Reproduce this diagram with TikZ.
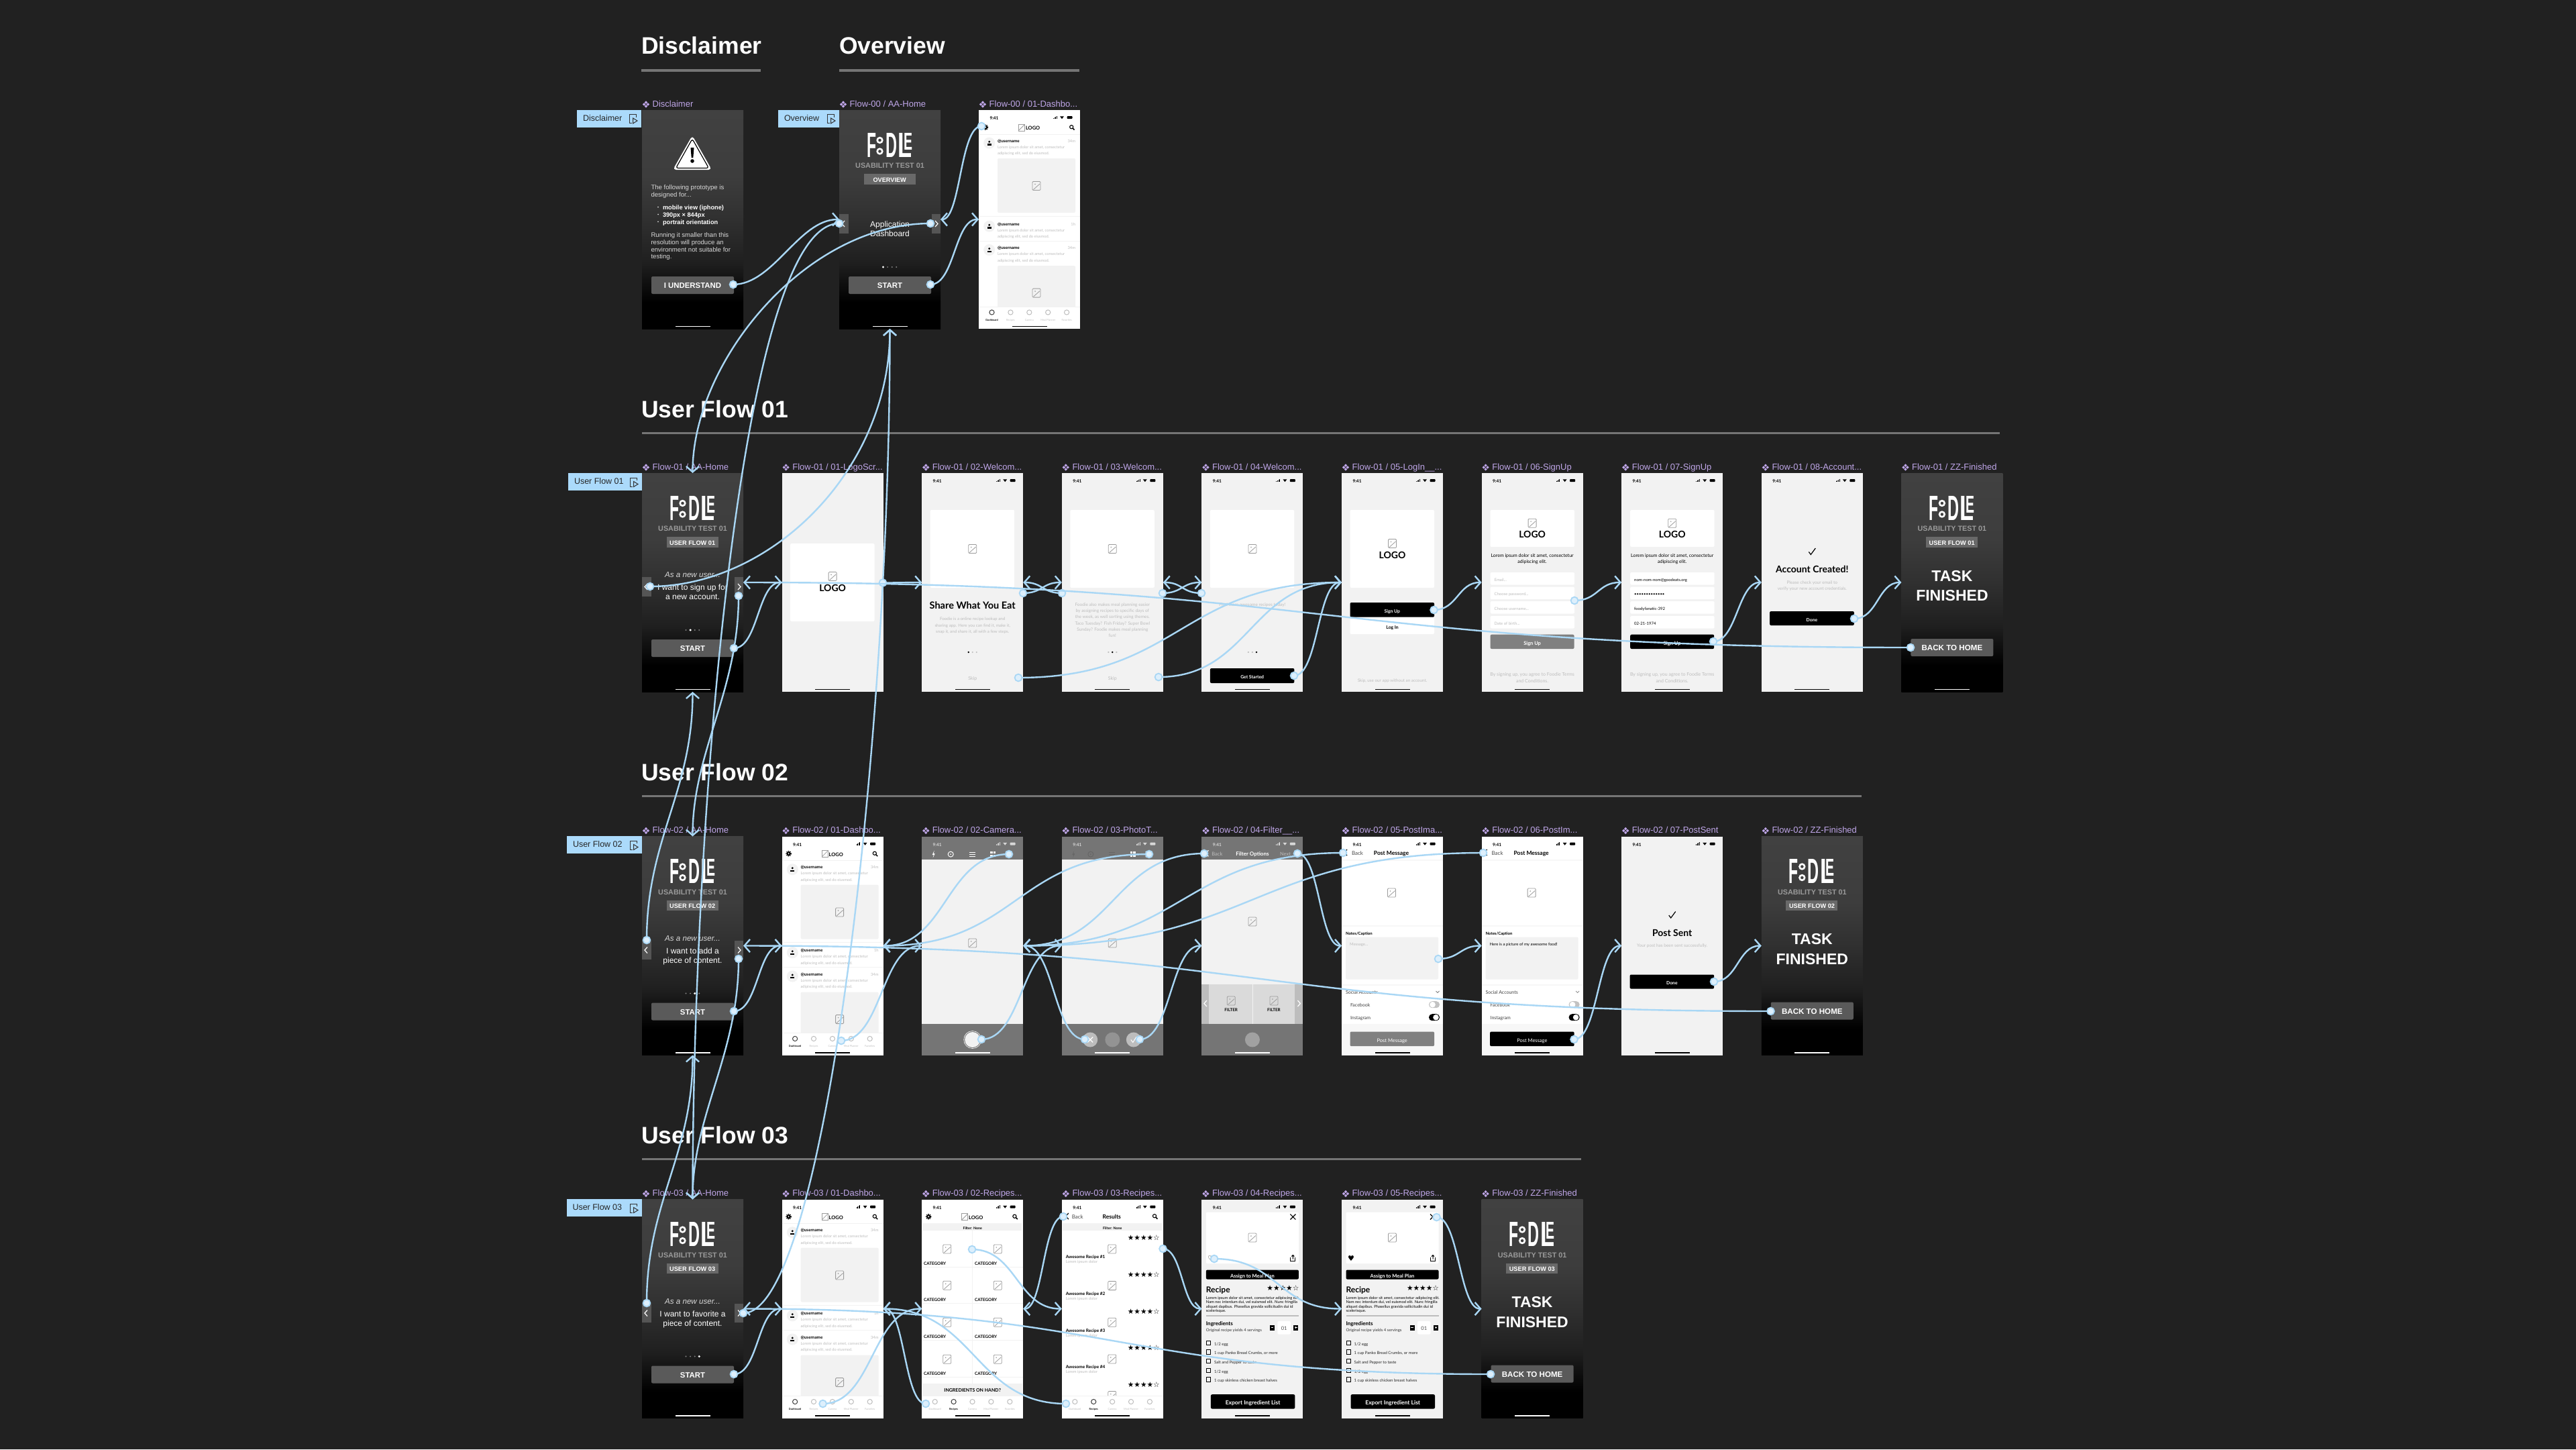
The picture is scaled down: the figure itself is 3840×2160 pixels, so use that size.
\documentclass[tikz,border=0pt]{standalone}
\usepackage{fontspec}
\usepackage{graphicx}
\usetikzlibrary{arrows.meta}
\setmainfont{Liberation Sans}
\newfontfamily\lato{Lato}
\newfontfamily\dejavu{DejaVu Sans}
\newdimen\pxu \pxu=0.25mm
\newcommand\fs[1]{\fontsize{#1\pxu}{#1\pxu}\selectfont}
\newcommand\La[1]{\lato\fs{#1}}
\newcommand\Lb[1]{\lato\bfseries\fs{#1}}
\newcommand\Ar[1]{\rmfamily\fs{#1}}
\newcommand\Ab[1]{\rmfamily\bfseries\fs{#1}}
\newcommand\Dj[1]{\dejavu\fs{#1}}
\definecolor{bgc}{HTML}{212121}
\definecolor{rulec}{HTML}{757575}
\definecolor{purp}{HTML}{BFA6E8}
\definecolor{tagc}{HTML}{ABDAFB}
\definecolor{noodlec}{HTML}{A9D7F5}
\definecolor{hotf}{HTML}{DDEFFC}
\definecolor{lightc}{HTML}{F2F2F2}
\definecolor{softc}{HTML}{BDBDBD}
\definecolor{midc}{HTML}{808080}
\definecolor{camc}{HTML}{757575}
\definecolor{btnc}{HTML}{5A5A5A}
\definecolor{badgec}{HTML}{696969}
\definecolor{sidec}{HTML}{555555}
\definecolor{usac}{HTML}{9A9A9A}
\definecolor{iconc}{HTML}{9C9C9C}
\definecolor{bodyc}{HTML}{D8D8D8}
\definecolor{dka}{HTML}{1F1F1F}
\definecolor{dkb}{HTML}{303030}
\definecolor{dkc}{HTML}{3D3D3D}
\definecolor{dkd}{HTML}{414141}
\pgfdeclareverticalshading{darkscr}{100bp}{color(0bp)=(black);color(31bp)=(black);color(40bp)=(dka);color(50bp)=(dkb);color(60bp)=(dkc);color(75bp)=(dkd);color(100bp)=(dkd)}
\newcounter{tn}
\newcommand\tx[6][]{\stepcounter{tn}\node[txt,font=#4,text=#5,#1] (t\arabic{tn}) at (#2,#3) {#6};}
\newcommand\compicon{\foreach \dx/\dy in {0/-2.9,0/2.9,-2.9/0,2.9/0}{\fill[purp] ({6+\dx-2.2},{-8.5+\dy}) -- ({6+\dx},{-8.5+\dy-2.2}) -- ({6+\dx+2.2},{-8.5+\dy}) -- ({6+\dx},{-8.5+\dy+2.2}) -- cycle;}}
\newcommand\screen[6]{\node[#2] (#1) at ({#3+75.5},{#4+163}) {};
 \begin{scope}[shift={(#3,#4)}]
  \compicon
  \tx[anchor=mid west]{15.7}{-8.5}{\Ar{13}}{purp}{#5}
  #6
 \end{scope}}
\newcommand\stat[1]{\tx{23}{11}{\Lb{6.5}}{#1}{9:41}
 \fill[#1] (111,13) rectangle (112,11.5); \fill[#1] (112.6,13) rectangle (113.6,10.5); \fill[#1] (114.2,13) rectangle (115.2,9.5); \fill[#1] (115.8,13) rectangle (116.8,8.8);
 \fill[#1] (121,9.3) -- (127,9.3) -- (124,13.2) -- cycle;
 \fill[#1,rounded corners=.25mm] (131.5,9) rectangle (139.5,13.2);}
\newcommand\homebar[1]{\fill[#1] (49.5,321.8) rectangle (101.5,323.4);}
\newcommand\imgi[2]{\draw[imgic] ({#1-6},{#2-6.5}) rectangle ({#1+6},{#2+6.5});
 \draw[imgic,sharp corners] ({#1-4.5},{#2+5.5}) -- ({#1+5},{#2-3}); \fill[iconc] ({#1-2},{#2-2.5}) circle (.9);}
\newcommand\gear[2]{\fill[black] (#1,#2) circle (3); \draw[black,line width=1.3\pxu,dash pattern=on 1.4\pxu off 1.2\pxu] (#1,#2) circle (3.6); \fill[white] (#1,#2) circle (1.1);}
\newcommand\search[2]{\draw[black,line width=1.1\pxu] ({#1-.8},{#2-.8}) circle (2.6); \draw[black,line width=1.5\pxu] ({#1+1},{#2+1}) -- ({#1+3.6},{#2+3.6});}
\newcommand\xmark[3]{\draw[#3,line width=1.2\pxu] ({#1-4},{#2-4}) -- ({#1+4},{#2+4}) ({#1-4},{#2+4}) -- ({#1+4},{#2-4});}
\newcommand\chevL[3]{\draw[#3,line width=1.2\pxu] ({#1+2},{#2-4.5}) -- ({#1-2},{#2}) -- ({#1+2},{#2+4.5});}
\newcommand\chevR[3]{\draw[#3,line width=1.2\pxu] ({#1-2},{#2-4.5}) -- ({#1+2},{#2}) -- ({#1-2},{#2+4.5});}
\newcommand\chk[2]{\draw[black,line width=1.2\pxu] ({#1-5},{#2+.5}) -- ({#1-2},{#2+4.5}) -- ({#1+5},{#2-5});}
\newcommand\btn[7]{\fill[#5,rounded corners=.5mm] (#1,#2) rectangle (#3,#4);
 \tx{{(#1+#3)/2}}{{(#2+#4)/2+1}}{#6}{white}{#7}}
% dashboard
\newcommand\tabbar[1]{\fill[white] (0,293) rectangle (151,326); \draw[lightc,line width=1\pxu] (0,293) -- (151,293);
 \foreach \i/\lab in {0/Dashboard,1/Recipes,2/Camera,3/Meal Planner,4/Favorites}{
  \ifnum\i=#1 \draw[iconc!40!black,line width=1\pxu] ({19.5+27.9*\i},301.5) circle (3.6);
   \tx{{19.5+27.9*\i}}{310.3}{\Lb{3.8}}{black}{\lab}
  \else \draw[softc,line width=1\pxu] ({19.5+27.9*\i},301.5) circle (3.6);
   \tx{{19.5+27.9*\i}}{310.3}{\La{3.8}}{softc}{\lab}\fi}}
\newcommand\post[2]{\fill[lightc] (15.7,{#1+4.5}) circle (8.5);
 \fill[black] (15.7,{#1+2.5}) circle (1.6); \fill[black] (12.7,{#1+7.8}) rectangle (18.7,{#1+5.6});
 \tx[anchor=mid west]{28}{#1}{\Lb{6.3}}{black}{@username}
 \tx[anchor=mid east]{144}{#1}{\La{5.8}}{softc}{#2}
 \tx[anchor=mid west]{28}{{#1+9}}{\La{5.7}}{softc}{Lorem ipsum dolor sit amet, consectetur}
 \tx[anchor=mid west]{28}{{#1+18.3}}{\La{5.7}}{softc}{adipiscing elit, sed do eiusmod.}}
\newcommand\apphdr{\stat{black}\gear{10}{25.7}
 \draw[iconc,line width=.8\pxu] (59.5,21) rectangle (68.5,31); \draw[iconc,line width=.8\pxu] (60,30) -- (68,22);
 \tx[anchor=mid west]{70}{26}{\Lb{7.5}}{black}{LOGO}\search{139}{26}}
\newcommand\dash{\apphdr
 \draw[lightc,line width=1\pxu] (0,36) -- (151,36);
 \post{44.7}{34m}
 \fill[lightc,rounded corners=.5mm] (28,72) rectangle (144,153); \imgi{86}{113}
 \draw[lightc,line width=1\pxu] (0,158) -- (151,158);
 \post{168.7}{1h}
 \draw[lightc,line width=1\pxu] (0,195) -- (151,195);
 \post{204}{34m}
 \fill[lightc,rounded corners=.5mm] (28,232) rectangle (144,300); \imgi{86}{272.6}
 \tabbar{0}\homebar{black}}
% home
\newcommand\brand[1]{
 \node[txt,anchor=north west] (t\arabic{tn}a) at (41,34) {\resizebox{14\pxu}{36\pxu}{\Ab{30}\textcolor{white}{F}}};
 \draw[white,line width=2.6\pxu] (60.5,45) circle (3.8) (60.5,61.5) circle (3.8);
 \node[txt,anchor=north west] (t\arabic{tn}b) at (69,34) {\resizebox{17\pxu}{36\pxu}{\Ab{30}\textcolor{white}{D}}};
 \node[txt,anchor=north west] (t\arabic{tn}c) at (87.5,34) {\resizebox{21\pxu}{36\pxu}{\Ab{30}\textcolor{white}{L}}};
 \node[txt,anchor=north west] (t\arabic{tn}d) at (96,34) {\resizebox{13\pxu}{25\pxu}{\Ab{30}\textcolor{white}{E}}};
 \tx{75.5}{83}{\Ab{10.8}}{usac}{USABILITY TEST 01}
 \fill[badgec] (36.5,95) rectangle (113.5,110.7);
 \tx{75.2}{103.5}{\Ab{9.2}}{white}{#1}\homebar{white}}
\newcommand\homeparts[1]{
 \fill[sidec] (0,155) rectangle (13.5,183.5); \fill[sidec] (137.5,155) rectangle (151,183.5);
 \chevL{6}{169.5}{white}\chevR{145}{169.5}{white}
 \foreach \i in {0,1,2,3}{\ifnum\i=#1 \fill[white] ({65.5+6.6*\i},234) circle (1.7);\else \fill[midc] ({65.5+6.6*\i},234) circle (1.1);\fi}
 \btn{14}{248}{137}{274}{btnc}{\Ab{11.4}}{START}}
\newcommand\usertext[3]{\tx{75.5}{152}{\rmfamily\itshape\fs{11.6}}{bodyc}{As a new user...}
 \tx{75.5}{171}{\Ar{12}}{white}{#2}\tx{75.5}{185}{\Ar{12}}{white}{#3}}
\newcommand\finished[1]{\brand{#1}
 \tx{75.5}{157.5}{\Ab{23}}{white}{TASK}\tx{75.5}{187}{\Ab{23}}{white}{FINISHED}
 \btn{14}{247}{137}{273}{btnc}{\Ab{11.6}}{BACK TO HOME}}
% welcome
\newcommand\pgdots[1]{\foreach \i in {0,1,2}{\ifnum\i=#1 \fill[black] ({69.5+6*\i},267) circle (1.4);\else \fill[softc] ({69.5+6*\i},267) circle (1.2);\fi}}
\newcommand\wbox[3]{\fill[white,rounded corners=.5mm] (12.5,#1) rectangle (138,#2);\imgi{75.5}{#3}}
\newcommand\sign{\stat{black}
 \fill[white,rounded corners=.5mm] (13,55) rectangle (138.5,110); \imgi{75.5}{74.7}
 \tx{75.5}{93}{\Lb{14}}{black}{LOGO}
 \tx{75.5}{122}{\La{7}}{black}{Lorem ipsum dolor sit amet, consectetur}
 \tx{75.5}{131}{\La{7}}{black}{adipiscing elit.}}
\newcommand\inp[3]{\fill[white,rounded corners=.5mm] (13,#1) rectangle (138.5,{#1+18.5});
 \tx[anchor=mid west]{19}{{#1+9.5}}{\La{6}}{#3}{#2}}
\newcommand\signtail[1]{
 \btn{13}{240.7}{138}{262}{#1}{\Lb{7.5}}{Sign Up}
 \tx{75.5}{299}{\La{7}}{softc}{By signing up, you agree to Foodie Terms}
 \tx{75.5}{308.6}{\La{7}}{softc}{and Conditions.}\homebar{black}}
% camera
\newcommand\camtop[1]{\fill[camc] (0,0) rectangle (151,34); \fill[camc] (0,279) rectangle (151,326);
 \stat{#1}\homebar{white}}
\newcommand\camicons[1]{\fill[#1] (18.5,21) -- (15.5,27.5) -- (17.5,27.5) -- (16.5,32) -- (19.5,25.5) -- (17.5,25.5) -- cycle;
 \draw[#1,line width=1\pxu] (43,26.6) circle (4); \fill[#1] (43,26.6) circle (1);
 \draw[#1,line width=1\pxu] (70.5,23.5) -- (79.5,23.5) (70.5,26.6) -- (79.5,26.6) (70.5,29.7) -- (79.5,29.7);}
\newcommand\gridic{\fill[white] (102,22.5) rectangle (105.4,25.9); \fill[white] (106.6,22.5) rectangle (110,25.9); \fill[white] (102,27.1) rectangle (105.4,30.5); \fill[white] (106.6,27.1) rectangle (110,30.5);}
% post message
\newcommand\postmsg[3]{\stat{black}
 \chevL{6}{24}{black}\tx[anchor=mid west]{15}{24}{\La{8}}{black!70}{Back}\tx{74}{24}{\Lb{8.5}}{black}{Post Message}
 \fill[lightc!60] (0,34.5) rectangle (151,36); \imgi{74.5}{84}
 \fill[lightc!60] (0,132) rectangle (151,134.5);
 \tx[anchor=mid west]{6}{143.7}{\Lb{6}}{black}{Notes/Caption}
 \fill[lightc,rounded corners=.5mm] (6,150) rectangle (144,213);
 \tx[anchor=mid west]{12}{159}{\La{6}}{#2}{#1}
 \fill[lightc!60] (0,220) rectangle (151,222);
 \tx[anchor=mid west]{6}{231.7}{\La{7}}{black!75}{Social Accounts}
 \draw[black!50,line width=.8\pxu] (140.5,230.5) -- (143,233) -- (145.5,230.5);
 \tx[anchor=mid west]{13}{250.7}{\La{7}}{black!75}{Facebook}
 \tx[anchor=mid west]{13}{269.7}{\La{7}}{black!75}{Instagram}
 \fill[lightc!80!black,rounded corners=1.2mm] (130,245.7) rectangle (146,255.7); \fill[white] (135.5,250.7) circle (4.3);
 \fill[black,rounded corners=1.2mm] (130,264.7) rectangle (146,274.7); \fill[white] (140.5,269.7) circle (4.3);
 \fill[lightc!60] (0,279) rectangle (151,326);
 \btn{12.5}{291}{138}{312.7}{#3}{\La{7.5}}{Post Message}\homebar{black}}
% recipes
\newcommand\catgrid{\fill[lightc] (1,35.7) rectangle (149,46); \tx{75.5}{41}{\Lb{5.3}}{black}{Filter: None}}
\newcommand\comma{,}
\newcommand\recipe[1]{\stat{black}
 \fill[white,rounded corners=.5mm] (6.5,19) rectangle (144.5,95.7);
 \xmark{136}{26}{black}\imgi{75.5}{57}
 \tx{14}{88}{\Dj{11}}{black}{#1}
 \draw[black,line width=1\pxu] (132.5,86) -- (132.5,92) -- (139.5,92) -- (139.5,86); \draw[black,line width=1\pxu] (136,89) -- (136,83) (134,85) -- (136,83) -- (138,85);
 \btn{6.5}{105}{144.5}{119}{black}{\Lb{7.5}}{Assign to Meal Plan}
 \tx[anchor=mid west]{6.5}{135}{\Lb{12}}{black}{Recipe}
 \tx[anchor=mid east]{145}{132.3}{\Dj{10.7}}{black}{★★★★☆}
 \tx[anchor=mid west]{6.5}{145.7}{\La{5.8}}{black}{Lorem ipsum dolor sit amet, consectetur adipiscing elit.}
 \tx[anchor=mid west]{6.5}{151.7}{\La{5.8}}{black}{Nam nec interdum dui, vel euismod elit. Nunc fringilla}
 \tx[anchor=mid west]{6.5}{157.8}{\La{5.8}}{black}{aliquet dapibus. Phasellus gravida sollicitudin dui id}
 \tx[anchor=mid west]{6.5}{164}{\La{5.8}}{black}{scelerisque.}
 \fill[softc] (6.5,172) rectangle (144.5,174);
 \tx[anchor=mid west]{6.5}{184}{\Lb{8}}{black}{Ingredients}
 \tx[anchor=mid west]{6.5}{193.7}{\La{6}}{black!80}{Original recipe yields 4 servings}
 \fill[white,rounded corners=.5mm] (113,181.5) rectangle (132.5,201);
 \tx{122.8}{191.3}{\La{7.5}}{black!70}{01}
 \fill[black] (101.5,187.5) rectangle (108.5,195); \fill[white] (103.3,190.8) rectangle (106.7,191.7);
 \fill[black] (137,187.5) rectangle (144,195); \fill[white] (138.8,190.8) rectangle (142.2,191.7); \fill[white] (140,189.6) rectangle (141,192.9);
 \foreach \yy/\lab in {214/1\slash2 egg,227.7/1 cup Panko Bread Crumbs\comma\ or more,241/Salt and Pepper to taste,255/1\slash2 egg,268.3/1 cup skinless chicken breast halves}{
  \draw[black,line width=1\pxu] (7,{\yy-3.3}) rectangle (13.4,{\yy+3.3});
  \tx[anchor=mid west]{18.7}{\yy}{\La{6}}{black!85}{\lab}}
 \btn{13.5}{290.7}{139}{312}{black}{\Lb{8.5}}{Export Ingredient List}\homebar{black}}
\newcommand\conn[5]{\coordinate (c#1) at (#2); \draw[noodle] (c#1) .. controls +(#4) and +(#5) .. (#3); \node[hot] (n#1) at (c#1) {};}
\newcommand\flowtag[3]{\fill[tagc] (#1,#2) rectangle ({#1+(#3)},{#2+26});
 \draw[black!80,line width=1\pxu] ({#1+(#3)-14.5},{#2+20}) -- ({#1+(#3)-18},{#2+20}) -- ({#1+(#3)-18},{#2+7}) -- ({#1+(#3)-8},{#2+7}) -- ({#1+(#3)-8},{#2+11});
 \draw[black!80,line width=1\pxu] ({#1+(#3)-12.5},{#2+12.5}) -- ({#1+(#3)-6},{#2+16.5}) -- ({#1+(#3)-12.5},{#2+20.5}) -- cycle;}
\begin{document}
\begin{tikzpicture}[x=.25mm,y=-.25mm,
 txt/.style={inner sep=0pt,outer sep=0pt,anchor=mid},
 frameb/.style={inner sep=0pt,outer sep=0pt,minimum width=37.75mm,minimum height=81.5mm},
 darkfr/.style={frameb,shade,shading=darkscr},
 lightfr/.style={frameb,fill=lightc},
 whitefr/.style={frameb,fill=white},
 imgic/.style={draw=iconc,line width=.8\pxu,rounded corners=.3mm},
 noodle/.style={draw=noodlec,line width=.6mm,-{Straight Barb[length=2.1mm,width=4.8mm]}},
 hot/.style={circle,draw=noodlec,fill=hotf,line width=.45mm,minimum size=2.7mm,inner sep=0pt},
 headrule/.style={fill=rulec}]
\fill[bgc] (0,0) rectangle (3840,2160);
\useasboundingbox (0,0) rectangle (3840,2160);
% headers
\tx[anchor=mid west]{956}{77}{\Ab{35.5}}{white}{Disclaimer}
\tx[anchor=mid west]{1251}{77}{\Ab{35.5}}{white}{Overview}
\fill[headrule] (956,102.5) rectangle (1134,106.5);
\fill[headrule] (1251,102.5) rectangle (1609,106.5);
\tx[anchor=mid west]{956}{619}{\Ab{35.5}}{white}{User Flow 01}
\fill[headrule] (957,643.5) rectangle (2981,647);
\tx[anchor=mid west]{956}{1160}{\Ab{35.5}}{white}{User Flow 02}
\fill[headrule] (957,1184.5) rectangle (2775,1188);
\tx[anchor=mid west]{956}{1701}{\Ab{35.5}}{white}{User Flow 03}
\fill[headrule] (957,1725.5) rectangle (2357,1729);
% tags
\flowtag{860}{163.5}{96}\tx[anchor=mid west]{869}{176.5}{\Ar{12.5}}{black!85}{Disclaimer}
\flowtag{1160}{163.5}{91}\tx[anchor=mid west]{1169}{176.5}{\Ar{12.5}}{black!85}{Overview}
\flowtag{847}{705}{110}\tx[anchor=mid west]{856}{718}{\Ar{12.5}}{black!85}{User Flow 01}
\flowtag{845}{1246}{112}\tx[anchor=mid west]{854}{1259}{\Ar{12.5}}{black!85}{User Flow 02}
\flowtag{845}{1787}{112}\tx[anchor=mid west]{853.5}{1800}{\Ar{12.5}}{black!85}{User Flow 03}
% row 0
\screen{Disc}{darkfr}{957}{164}{Disclaimer}{
 \fill[white,rounded corners=1.2mm] (75,38) -- (104,89) -- (46,89) -- cycle;
 \draw[black,line width=.3mm,rounded corners=.8mm] (75,43) -- (99.5,86.5) -- (50.5,86.5) -- cycle;
 \fill[black] (72.5,56) -- (77.5,56) -- (76.3,71) -- (73.7,71) -- cycle; \fill[black] (75,76) circle (2.8);
 \tx[anchor=mid west]{13.5}{115}{\Ar{9.6}}{bodyc}{The following prototype is}
 \tx[anchor=mid west]{13.5}{126}{\Ar{9.6}}{bodyc}{designed for...}
 \foreach \yy/\lab in {144.7/mobile view (iphone),155.5/390px × 844px,166.3/portrait orientation}{
  \fill[bodyc] (24,\yy) circle (1); \tx[anchor=mid west]{31}{\yy}{\Ab{9.2}}{white}{\lab}}
 \tx[anchor=mid west]{13.5}{185.7}{\Ar{9.6}}{bodyc}{Running it smaller than this}
 \tx[anchor=mid west]{13.5}{196.6}{\Ar{9.6}}{bodyc}{resolution will produce an}
 \tx[anchor=mid west]{13.5}{207.4}{\Ar{9.6}}{bodyc}{environment not suitable for}
 \tx[anchor=mid west]{13.5}{218.2}{\Ar{9.6}}{bodyc}{testing.}
 \btn{14}{248}{137}{274}{btnc}{\Ab{11.4}}{I UNDERSTAND}\homebar{white}}
\screen{HomeO}{darkfr}{1251}{164}{Flow-00 / AA-Home}{\brand{OVERVIEW}\homeparts{0}
 \tx{75.5}{171}{\Ar{12}}{white}{Application}\tx{75.5}{185}{\Ar{12}}{white}{Dashboard}}
\screen{DashO}{whitefr}{1459}{164}{Flow-00 / 01-Dashbo...}{\dash}
% row 1
\screen{HomeA}{darkfr}{957}{705}{Flow-01 / AA-Home}{\brand{USER FLOW 01}\homeparts{1}\usertext{}{I want to sign up for}{a new account.}}
\screen{LogoA}{lightfr}{1165.6}{705}{Flow-01 / 01-LogoScr...}{\wbox{105}{221}{154}\tx{75.5}{173}{\Lb{14}}{black}{LOGO}\homebar{black}}
\screen{WelA}{lightfr}{1374.2}{705}{Flow-01 / 02-Welcom...}{\stat{black}\wbox{55}{171}{113}
 \tx{75.5}{199}{\Lb{14.5}}{black}{Share What You Eat}
 \tx{75.5}{216}{\La{6.2}}{softc}{Foodie is a online recipe lookup and}
 \tx{75.5}{225.6}{\La{6.2}}{softc}{sharing app. Here you can find it, make it,}
 \tx{75.5}{235}{\La{6.2}}{softc}{snap it, and share it, all with a few steps.}
 \pgdots{0}\tx{75.5}{304.7}{\La{7}}{softc}{Skip}\homebar{black}}
\screen{WelB}{lightfr}{1582.8}{705}{Flow-01 / 03-Welcom...}{\stat{black}\wbox{55}{171}{113}
 \tx{75.5}{194.7}{\La{6.5}}{softc}{Foodie also makes meal planning easier}
 \tx{75.5}{204}{\La{6.5}}{softc}{by assigning recipes to specific days of}
 \tx{75.5}{213}{\La{6.5}}{softc}{the week, as well sorting using themes.}
 \tx{75.5}{222.3}{\La{6.5}}{softc}{Taco Tuesday? Fish Friday? Super Bowl}
 \tx{75.5}{231.7}{\La{6.5}}{softc}{Sunday? Foodie makes meal planning}
 \tx{75.5}{241}{\La{6.5}}{softc}{fun!}
 \pgdots{1}\tx{75.5}{304.7}{\La{7}}{softc}{Skip}\homebar{black}}
\screen{WelC}{lightfr}{1791.4}{705}{Flow-01 / 04-Welcom...}{\stat{black}\wbox{55}{171}{113}
 \tx{75.5}{194.7}{\La{6.5}}{softc}{Find more awesome recipes today!}
 \pgdots{2}\btn{12.5}{291}{138}{313}{black}{\Lb{6.8}}{Get Started}\homebar{black}}
\screen{LogIn}{lightfr}{2000}{705}{Flow-01 / 05-LogIn\_\_...}{\stat{black}\wbox{55}{171}{105}
 \tx{75.5}{124}{\Lb{14}}{black}{LOGO}
 \btn{12.5}{193}{138}{214.7}{black}{\Lb{6.8}}{Sign Up}
 \fill[white,rounded corners=.5mm] (12.5,215) rectangle (138,240); \tx{75.5}{229}{\Lb{6.8}}{black}{Log In}
 \tx{75.5}{308}{\La{6.3}}{softc}{Skip, use our app without an account.}\homebar{black}}
\screen{SignA}{lightfr}{2208.6}{705}{Flow-01 / 06-SignUp}{\sign
 \inp{148}{Email...}{softc}\inp{169.7}{Choose password...}{softc}\inp{191}{Choose username...}{softc}\inp{213}{Date of birth...}{softc}
 \signtail{midc}}
\screen{SignB}{lightfr}{2417.2}{705}{Flow-01 / 07-SignUp}{\sign
 \inp{148}{nom-nom-nom@goodeats.org}{black}\inp{169.7}{•••••••••••••}{black}\inp{191}{foodyfanatic-392}{black}\inp{213}{02-21-1974}{black}
 \signtail{black}}
\screen{Acct}{lightfr}{2625.8}{705}{Flow-01 / 08-Account...}{\stat{black}\chk{75.5}{117}
 \tx{75.5}{145}{\Lb{14}}{black}{Account Created!}
 \tx{75.5}{161.7}{\La{6.5}}{softc}{Please check your email to}
 \tx{75.5}{171}{\La{6.5}}{softc}{verify your new account credentials.}
 \btn{12.3}{206}{138}{227}{black}{\Lb{6.8}}{Done}\homebar{black}}
\screen{ZZA}{darkfr}{2834.4}{705}{Flow-01 / ZZ-Finished}{\finished{USER FLOW 01}}
% row 2
\screen{HomeB}{darkfr}{957}{1246.5}{Flow-02 / AA-Home}{\brand{USER FLOW 02}\homeparts{2}\usertext{}{I want to add a}{piece of content.}}
\screen{DashB}{whitefr}{1165.6}{1246.5}{Flow-02 / 01-Dashbo...}{\dash}
\screen{Cam}{lightfr}{1374.2}{1246.5}{Flow-02 / 02-Camera...}{\camtop{bodyc}\camicons{white}\gridic\xmark{129}{26.6}{white}\imgi{75.5}{159}
 \draw[white,line width=.6\pxu] (75.5,303) circle (13); \fill[lightc] (75.5,303) circle (11.5);}
\screen{Photo}{lightfr}{1582.8}{1246.5}{Flow-02 / 03-PhotoT...}{\camtop{bodyc}\camicons{black!60}\gridic\xmark{129}{26.6}{white}\imgi{75.5}{159}
 \fill[softc] (42.4,303) circle (11); \xmark{42.4}{303}{white}
 \fill[midc!85!white] (75.5,303) circle (11);
 \fill[softc] (107,303) circle (11); \draw[white,line width=1\pxu] (103,303) -- (106,307) -- (111,299);}
\screen{Filt}{lightfr}{1791.4}{1246.5}{Flow-02 / 04-Filter\_\_...}{\camtop{bodyc}
 \chevL{8}{25.3}{white}\tx[anchor=mid west]{15}{25.3}{\La{7.5}}{softc}{Back}
 \tx{75.5}{25.3}{\Lb{8}}{white}{Filter Options}\tx{124.6}{25.3}{\La{7.5}}{softc}{Next}\imgi{75.5}{127}
 \fill[lightc!90!black] (0,220) rectangle (151,279);
 \draw[lightc,line width=.8\pxu] (75.5,220) -- (75.5,279);
 \fill[softc] (0,220) rectangle (11,279); \fill[softc] (139,220) rectangle (151,279);
 \chevL{5.5}{249}{white}\chevR{145}{249}{white}
 \imgi{43.8}{245}\imgi{107.5}{245}
 \tx{43.8}{257}{\Lb{6.3}}{black}{FILTER}\tx{107.5}{257}{\Lb{6.3}}{black}{FILTER}
 \fill[softc!85!black] (75.5,303) circle (11);}
\screen{PostA}{whitefr}{2000}{1246.5}{Flow-02 / 05-PostIma...}{\postmsg{Message...}{softc}{midc}}
\screen{PostB}{whitefr}{2208.6}{1246.5}{Flow-02 / 06-PostIm...}{\postmsg{Here is a picture of my awesome food!}{black}{black}}
\screen{Sent}{lightfr}{2417.2}{1246.5}{Flow-02 / 07-PostSent}{\stat{black}\chk{75.5}{117}
 \tx{75.5}{145}{\Lb{14}}{black}{Post Sent}
 \tx{75.5}{161.7}{\La{6.5}}{softc}{Your post has been sent successfully.}
 \btn{12.3}{206}{138}{227}{black}{\Lb{6.8}}{Done}\homebar{black}}
\screen{ZZB}{darkfr}{2625.8}{1246.5}{Flow-02 / ZZ-Finished}{\finished{USER FLOW 02}}
% row 3
\screen{HomeC}{darkfr}{957}{1787.5}{Flow-03 / AA-Home}{\brand{USER FLOW 03}\homeparts{3}\usertext{}{I want to favorite a}{piece of content.}}
\screen{DashC}{whitefr}{1165.6}{1787.5}{Flow-03 / 01-Dashbo...}{\dash}
\screen{RecA}{whitefr}{1374.2}{1787.5}{Flow-03 / 02-Recipes...}{\apphdr\catgrid
 \draw[lightc,line width=.8\pxu] (75.5,46) -- (75.5,274);
 \foreach \yy in {74,128.3,183.3,238.3}{\imgi{37.5}{\yy}\imgi{113}{\yy}
  \tx[anchor=mid west]{3}{{\yy+20.3}}{\Lb{6.3}}{black}{CATEGORY}\tx[anchor=mid west]{79}{{\yy+20.3}}{\Lb{6.3}}{black}{CATEGORY}
  \draw[lightc,line width=.8\pxu] (0,{\yy+26.7}) -- (151,{\yy+26.7});}
 \fill[lightc] (1,274) rectangle (150,293); \tx{75.5}{283.7}{\Lb{7}}{black}{INGREDIENTS ON HAND?}
 \tabbar{1}\homebar{black}}
\screen{RecB}{whitefr}{1582.8}{1787.5}{Flow-03 / 03-Recipes...}{\stat{black}
 \chevL{8}{25}{black}\tx[anchor=mid west]{15}{25}{\La{8}}{black!70}{Back}\tx{74.5}{25}{\Lb{8.5}}{black}{Results}\search{139}{25.5}\catgrid
 \foreach \ii/\yy in {1/57.7,2/112.3,3/167,4/221.6}{
  \tx[anchor=mid east]{146}{\yy}{\Dj{10.7}}{black}{★★★★☆}\imgi{75}{\yy+16.3}
  \tx[anchor=mid west]{6}{{\yy+27}}{\Lb{6.5}}{black}{Awesome Recipe \#\ii}
  \tx[anchor=mid west]{6}{{\yy+34}}{\La{5.8}}{softc}{Lorem ipsum dolor}}
 \tx[anchor=mid east]{146}{276.3}{\Dj{10.7}}{black}{★★★★☆}\imgi{75}{292.6}
 \tabbar{1}\homebar{black}}
\screen{RecC}{lightfr}{1791.4}{1787.5}{Flow-03 / 04-Recipes...}{\recipe{♡}}
\screen{RecD}{lightfr}{2000}{1787.5}{Flow-03 / 05-Recipes...}{\recipe{♥}}
\screen{ZZC}{darkfr}{2208.6}{1787.5}{Flow-03 / ZZ-Finished}{\finished{USER FLOW 03}}
% connectors row 0
\conn{dA}{1093,424}{HomeO.west}{60,0}{-60,0}
\conn{oA}{1387,424}{DashO.west}{36,0}{-36,0}
\conn{gO}{1463,188}{HomeO.east}{-32,0}{30,0}
% carousel
\conn{hzR}{1387,333}{HomeA.north}{-187,0}{0,-165}
\conn{hzL}{1251,333}{HomeC.north}{-151,0}{0,-537}
\conn{haL}{969,874}{HomeO.south}{181,0}{0,210}
\conn{hcR}{1108,1957}{HomeO.south}{122,0}{0,610}
\conn{haR}{1101,888}{HomeB.north}{0,142}{0,-126}
\conn{hbR}{1101,1429}{HomeC.north}{0,142}{0,-126}
\conn{hbL}{964,1401}{HomeA.south}{0,-151}{0,149}
\conn{hcL}{964,1942}{HomeB.south}{0,-151}{0,149}
% row 1
\conn{sA}{1094,966}{LogoA.west}{36,0}{-36,0}
\conn{lA}{1316,868.5}{WelA.west}{25,0}{-25,0}
\conn{wA}{1525,884}{WelB.west}{29,0}{-29,0}
\conn{wB}{1583,884}{WelA.east}{-29,0}{29,0}
\conn{wC}{1733,884}{WelC.west}{29,0}{-29,0}
\conn{wD}{1791,884}{WelB.east}{-29,0}{29,0}
\conn{kA}{1518,1010}{LogIn.west}{240,0}{-240,0}
\conn{kB}{1727,1009}{LogIn.west}{136,0}{-136,0}
\conn{gS}{1929,1007}{LogIn.west}{36,0}{-36,0}
\conn{sU}{2137.5,909}{SignA.west}{35,0}{-35,0}
\conn{sB}{2347,895}{SignB.west}{35,0}{-35,0}
\conn{sC}{2554,956}{Acct.west}{35,0}{-35,0}
\conn{dN}{2764,922}{ZZA.west}{35,0}{-35,0}
\conn{bA}{2848,965}{HomeA.east}{-870,0}{870,0}
% row 2
\conn{sD}{1094,1507}{DashB.west}{36,0}{-36,0}
\conn{cA}{1254,1551}{Cam.west}{60,0}{-60,0}
\conn{cB}{1504,1273}{DashB.east}{-94,0}{94,0}
\conn{cC}{1713,1273}{DashB.east}{-200,0}{200,0}
\conn{cD}{1463,1549}{Photo.west}{60,0}{-60,0}
\conn{cE}{1617,1549}{Cam.east}{-46,0}{46,0}
\conn{cF}{1699,1549}{Filt.west}{46,0}{-46,0}
\conn{cG}{1795,1272}{Cam.east}{-135,0}{135,0}
\conn{cH}{2002,1271}{Cam.east}{-238,0}{238,0}
\conn{cI}{2211,1271}{Cam.east}{-343,0}{343,0}
\conn{cJ}{1934,1272}{PostA.west}{33,0}{-33,0}
\conn{cK}{2144,1429}{PostB.west}{32,0}{-32,0}
\conn{cL}{2346.5,1549}{Sent.west}{35,0}{-35,0}
\conn{cM}{2555,1463}{ZZB.west}{35,0}{-35,0}
\conn{bB}{2639.5,1507}{HomeB.east}{-765,0}{765,0}
% row 3
\conn{sE}{1094,2048}{DashC.west}{36,0}{-36,0}
\conn{rA}{1226.6,2092}{RecA.west}{74,0}{-74,0}
\conn{rB}{1380,2092}{DashC.east}{-32,0}{32,0}
\conn{rC}{1449,1862}{RecB.west}{66,0}{-66,0}
\conn{rD}{1585,1813}{RecA.east}{-30,0}{30,0}
\conn{rE}{1589,2092}{DashC.east}{-136,0}{136,0}
\conn{rF}{1733.5,1861}{RecC.west}{29,0}{-29,0}
\conn{rG}{1810,1876}{RecD.west}{95,0}{-95,0}
\conn{rH}{2141.5,1814}{ZZC.west}{33,0}{-33,0}
\conn{bC}{2222,2048}{HomeC.east}{-557,0}{557,0}
\end{tikzpicture}
\end{document}
